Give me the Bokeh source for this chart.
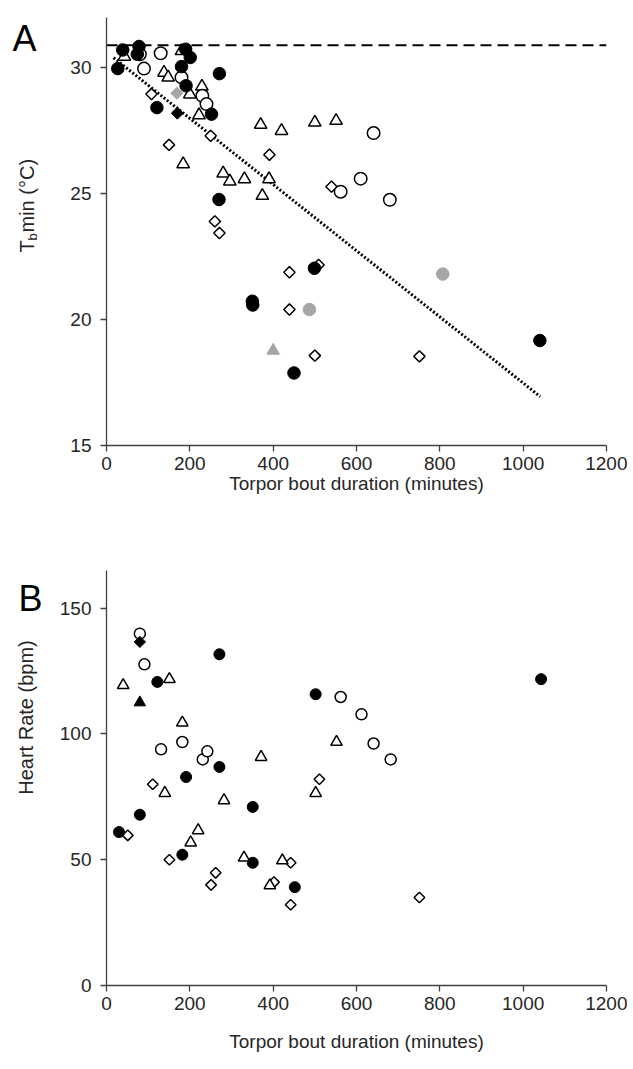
import math
from bokeh.plotting import figure
from bokeh.layouts import column, row
from bokeh.models import FixedTicker
from bokeh.core.properties import value
from bokeh.embed import file_html
from bokeh.resources import INLINE

# ---------------- data: panel A (Tb min, deg C) ----------------
a_black_circle_x = [27, 39, 74, 78, 121, 180, 190, 201, 191, 252, 271, 270, 350, 351, 450, 499, 1040]
a_black_circle_y = [29.97, 30.71, 30.54, 30.85, 28.42, 30.05, 30.74, 30.41, 29.29, 28.16, 29.77, 24.77,
                    20.73, 20.58, 17.88, 22.04, 19.17]
a_open_circle_x = [80, 90, 130, 180, 230, 240, 562, 610, 641, 680]
a_open_circle_y = [30.54, 29.97, 30.58, 29.62, 28.89, 28.56, 25.08, 25.60, 27.41, 24.76]
a_open_tri_x = [43, 138, 148, 180, 184, 200, 222, 229, 280, 296, 331, 370, 374, 390, 420, 500, 551]
a_open_tri_y = [30.45, 29.81, 29.62, 30.67, 26.18, 28.95, 28.12, 29.26, 25.81, 25.49, 25.58, 27.74,
                24.92, 25.58, 27.50, 27.83, 27.90]
a_open_dia_x = [108, 150, 250, 260, 271, 391, 439, 439, 509, 500, 540, 751]
a_open_dia_y = [28.96, 26.94, 27.30, 23.90, 23.44, 26.55, 21.88, 20.40, 22.17, 18.57, 25.28, 18.54]
a_grey_circle_x = [487, 807]
a_grey_circle_y = [20.40, 21.81]
a_grey_tri_x = [400]
a_grey_tri_y = [18.77]
a_grey_dia_x = [169]
a_grey_dia_y = [28.99]
a_black_dia_x = [170]
a_black_dia_y = [28.20]
a_trend_x = [17, 1041]
a_trend_y = [30.40, 16.94]
a_ref_x = [0, 1200]
a_ref_y = [30.9, 30.9]

# ---------------- data: panel B (heart rate, bpm) ----------------
b_black_circle_x = [30, 80, 122, 182, 191, 271, 271, 351, 351, 452, 502, 1043]
b_black_circle_y = [61.0, 67.9, 120.7, 52.0, 82.9, 131.7, 86.9, 71.0, 48.8, 39.1, 115.8, 121.8]
b_open_circle_x = [80, 91, 131, 182, 231, 242, 562, 612, 641, 682]
b_open_circle_y = [139.9, 127.7, 93.9, 96.8, 89.9, 93.1, 114.7, 107.8, 96.2, 89.9]
b_open_tri_x = [40, 140, 151, 182, 202, 220, 282, 330, 371, 392, 422, 502, 552]
b_open_tri_y = [119.4, 76.5, 121.8, 104.5, 56.8, 61.7, 73.6, 50.8, 90.8, 39.8, 49.7, 76.5, 96.8]
b_open_dia_x = [51, 111, 151, 251, 262, 402, 442, 442, 511, 751]
b_open_dia_y = [59.7, 80.0, 50.0, 40.0, 44.8, 41.1, 48.8, 32.1, 82.0, 35.0]
b_black_dia_x = [80]
b_black_dia_y = [136.6]
b_black_tri_x = [80]
b_black_tri_y = [112.5]

x_ticks = [0, 200, 400, 600, 800, 1000, 1200]
a_y_ticks = [15, 20, 25, 30]
b_y_ticks = [0, 50, 100, 150]
a_y_bounds = (15, 32)
b_y_bounds = (0, 165)

FONT = "Liberation Sans"
GREY = "#a6a6a6"
AXC = "#404040"
TXT = "#262626"

LW = 50          # width of the side strip holding panel letters / y titles
ML, MR = 56, 21  # main figure borders (frame starts at LW + ML = 106)
FW = 500
MW = ML + FW + MR


def style(p, yticks, ybounds):
    p.xaxis.ticker = FixedTicker(ticks=x_ticks)
    p.yaxis.ticker = FixedTicker(ticks=yticks)
    p.yaxis.bounds = ybounds
    p.xgrid.visible = False
    p.ygrid.visible = False
    p.outline_line_color = None
    for ax in (p.xaxis[0], p.yaxis[0]):
        ax.axis_line_color = AXC
        ax.axis_line_width = 1.3
        ax.major_tick_line_color = AXC
        ax.major_tick_line_width = 1.3
        ax.major_tick_out = 6
        ax.major_tick_in = 0
        ax.minor_tick_line_color = None
        ax.major_label_text_font = FONT
        ax.major_label_text_font_size = "19px"
        ax.major_label_text_color = TXT
        ax.axis_label_text_font = FONT
        ax.axis_label_text_font_size = "19px"
        ax.axis_label_text_font_style = "normal"
        ax.axis_label_text_color = TXT
    p.xaxis.major_label_standoff = 5
    p.yaxis.major_label_standoff = 9


def markers(p, bc, oc, ot, od, size_c, size_t, size_d):
    p.scatter(od[0], od[1], marker="square", angle=math.pi / 4, size=size_d,
              fill_color="white", line_color="black", line_width=1.5)
    p.scatter(ot[0], ot[1], marker="triangle", size=size_t,
              fill_color="white", line_color="black", line_width=1.5)
    p.scatter(oc[0], oc[1], marker="circle", size=size_c,
              fill_color="white", line_color="black", line_width=1.5)
    p.scatter(bc[0], bc[1], marker="circle", size=size_c,
              fill_color="black", line_color="black", line_width=1)


def side_strip(h, top, fh):
    # the strip's frame is aligned with the neighbouring plot frame (top..top+fh);
    # its y range is chosen so that data y == h - (pixel row within the strip)
    s = figure(width=LW, height=h, x_range=(0, LW), y_range=(h - top - fh, h - top),
               output_backend="svg", toolbar_location=None,
               min_border_left=0, min_border_right=0, min_border_top=top, min_border_bottom=h - top - fh)
    s.axis.visible = False
    s.xgrid.visible = False
    s.ygrid.visible = False
    s.outline_line_color = None
    return s


# ---------------- panel A ----------------
HA = 530
PXA = 428 / 17          # pixels per degree
TA = 4                  # frame top (pixel); axis itself starts at 17
FHA = 445 - TA
pA = figure(width=MW, height=HA, x_range=(0, 1200), y_range=(15, 32 + (17 - TA) / PXA),
            output_backend="svg", toolbar_location=None,
            min_border_left=ML, min_border_right=MR, min_border_top=TA, min_border_bottom=HA - TA - FHA)
style(pA, a_y_ticks, a_y_bounds)
pA.xaxis.axis_label = "Torpor bout duration (minutes)"
pA.xaxis.axis_label_standoff = 0

pA.line(a_ref_x, a_ref_y, line_color="black", line_width=2, line_dash="11 6")
pA.line(a_trend_x, a_trend_y, line_color="black", line_width=3, line_dash="2 2")
markers(pA, (a_black_circle_x, a_black_circle_y), (a_open_circle_x, a_open_circle_y),
        (a_open_tri_x, a_open_tri_y), (a_open_dia_x, a_open_dia_y), 12.5, 12.5, 8)
pA.scatter(a_grey_circle_x, a_grey_circle_y, marker="circle", size=12.5, fill_color=GREY, line_color=GREY)
pA.scatter(a_grey_tri_x, a_grey_tri_y, marker="triangle", size=12.5, fill_color=GREY, line_color=GREY)
pA.scatter(a_grey_dia_x, a_grey_dia_y, marker="square", angle=math.pi / 4, size=8.5,
           fill_color=GREY, line_color=GREY)
pA.scatter(a_black_dia_x, a_black_dia_y, marker="square", angle=math.pi / 4, size=8.5,
           fill_color="black", line_color="black")

sA = side_strip(HA, TA, FHA)
sA.text(x=[12], y=[HA - 38], text=["A"], text_font=value(FONT), text_font_size=value("36px"),
        text_color="black", text_baseline="alphabetic", text_align="left")
# y title: T_b min (°C), reading bottom-to-top
yb = 252
sA.text(x=[26], y=[HA - yb], text=["T"], angle=math.pi / 2, text_font=value(FONT),
        text_font_size=value("20px"), text_color=TXT, text_baseline="middle", text_align="left")
sA.text(x=[32], y=[HA - (yb - 12)], text=["b"], angle=math.pi / 2, text_font=value(FONT),
        text_font_size=value("13px"), text_color=TXT, text_baseline="middle", text_align="left")
sA.text(x=[26], y=[HA - (yb - 20)], text=[" min (°C)"], angle=math.pi / 2, text_font=value(FONT),
        text_font_size=value("20px"), text_color=TXT, text_baseline="middle", text_align="left")

# ---------------- panel B ----------------
HB = 535
PXB = 415 / 165         # pixels per bpm
TB = 20                 # frame top within panel B; axis starts at 40
FHB = 455 - TB
pB = figure(width=MW, height=HB, x_range=(0, 1200), y_range=(0, 165 + (40 - TB) / PXB),
            output_backend="svg", toolbar_location=None,
            min_border_left=ML, min_border_right=MR, min_border_top=TB, min_border_bottom=HB - TB - FHB)
style(pB, b_y_ticks, b_y_bounds)
pB.xaxis.axis_label = "Torpor bout duration (minutes)"
pB.xaxis.axis_label_standoff = 18

markers(pB, (b_black_circle_x, b_black_circle_y), (b_open_circle_x, b_open_circle_y),
        (b_open_tri_x, b_open_tri_y), (b_open_dia_x, b_open_dia_y), 11, 11.5, 7.5)
pB.scatter(b_black_dia_x, b_black_dia_y, marker="square", angle=math.pi / 4, size=8,
           fill_color="black", line_color="black")
pB.scatter(b_black_tri_x, b_black_tri_y, marker="triangle", size=11.5,
           fill_color="black", line_color="black")

sB = side_strip(HB, TB, FHB)
sB.text(x=[18], y=[HB - (598 - HA)], text=["B"], text_font=value(FONT), text_font_size=value("36px"),
        text_color="black", text_baseline="alphabetic", text_align="left")
sB.text(x=[25], y=[HB - (717 - HA)], text=["Heart Rate (bpm)"], angle=math.pi / 2, text_font=value(FONT),
        text_font_size=value("20px"), text_color=TXT, text_baseline="middle", text_align="center")

layout = column(row(sA, pA, spacing=0), row(sB, pB, spacing=0), spacing=0)
open("out.html", "w").write(file_html(layout, INLINE))
